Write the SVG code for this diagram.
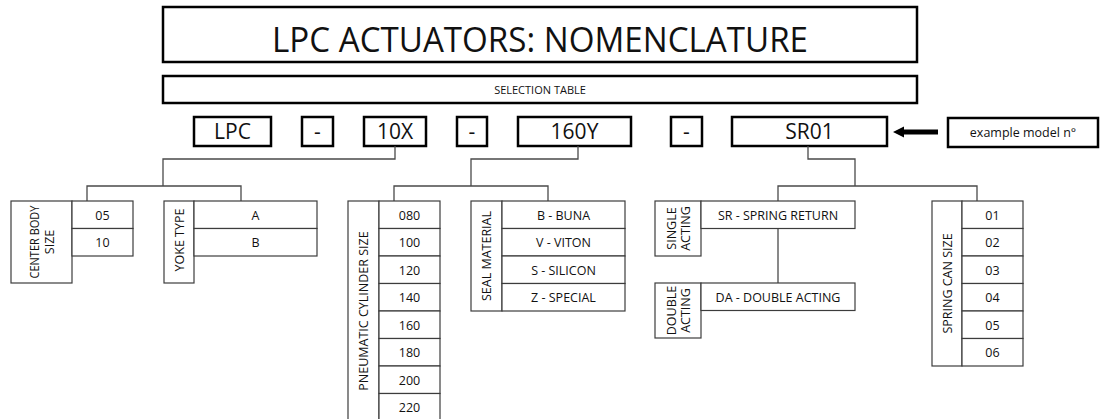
<svg xmlns="http://www.w3.org/2000/svg" width="1101" height="419" viewBox="0 0 1101 419">
<style>
.hb{fill:#fff;stroke:#000;stroke-width:2.5}
.b{fill:#fff;stroke:#3c3c3c;stroke-width:1.2}
.c{fill:none;stroke:#4a4a4a;stroke-width:1.3}
text{font-family:"Open Sans","Liberation Sans",sans-serif;fill:#111;text-anchor:middle}
.t{font-size:35px}
.m{font-size:21px}
.s{font-size:12.5px}
.xs{font-size:11px}
</style>
<rect width="1101" height="419" fill="#fff"/>
<g id="title"><rect class="hb" x="163" y="7" width="754" height="55"/><text class="t" x="540" y="52" textLength="536" lengthAdjust="spacingAndGlyphs">LPC ACTUATORS: NOMENCLATURE</text></g>
<g id="selection"><rect class="hb" x="163" y="76" width="754" height="27"/><text class="xs" x="540" y="94">SELECTION TABLE</text></g>
<g id="code-lpc"><rect class="hb" x="194" y="117" width="77" height="29"/><text class="m" x="232.5" y="139">LPC</text></g>
<g id="code-dash1"><rect class="hb" x="302" y="117" width="31" height="29"/><text class="m" x="317.5" y="139">-</text></g>
<g id="code-10x"><rect class="hb" x="364" y="117" width="62" height="29"/><text class="m" x="395" y="139">10X</text></g>
<g id="code-dash2"><rect class="hb" x="457" y="117" width="30" height="29"/><text class="m" x="472" y="139">-</text></g>
<g id="code-160y"><rect class="hb" x="518" y="117" width="113" height="29"/><text class="m" x="574.5" y="139">160Y</text></g>
<g id="code-dash3"><rect class="hb" x="671" y="117" width="31" height="29"/><text class="m" x="686.5" y="139">-</text></g>
<g id="code-sr01"><rect class="hb" x="732" y="117" width="155" height="29"/><text class="m" x="809.5" y="139">SR01</text></g>
<g id="example"><rect class="hb" x="948" y="118" width="150" height="29"/><text class="s" x="1023" y="137">example model n°</text></g>
<g id="arrow"><polygon points="893,132 904,126.5 904,137.5" fill="#000"/><rect x="903" y="129.5" width="35" height="5" fill="#000"/></g>

<g id="connectors">
<path class="c" d="M395,146V159H163V186M87,201V186H241V201"/>
<path class="c" d="M578,146V159H471V186M394,201V186H548V201"/>
<path class="c" d="M808,146V159H855V186M778,201V186H977V201"/>
<path class="c" d="M778,228.5V283"/>
</g>

<g id="center-body-size">
<rect class="b" x="11" y="201" width="61" height="82"/>
<text class="s" transform="translate(41.5,242) rotate(-90)"><tspan x="0" y="-3" textLength="73" lengthAdjust="spacingAndGlyphs">CENTER BODY</tspan><tspan x="0" y="12">SIZE</tspan></text>
<rect class="b" x="72" y="201" width="61" height="27.5"/><text class="s" x="102.5" y="219.5">05</text>
<rect class="b" x="72" y="228.5" width="61" height="27.5"/><text class="s" x="102.5" y="247">10</text>
</g>

<g id="yoke-type">
<rect class="b" x="164" y="201" width="30" height="82"/>
<text class="s" transform="translate(183.5,240) rotate(-90)">YOKE TYPE</text>
<rect class="b" x="194" y="201" width="123" height="27.5"/><text class="s" x="255.5" y="219.5">A</text>
<rect class="b" x="194" y="228.5" width="123" height="27.5"/><text class="s" x="255.5" y="247">B</text>
</g>

<g id="pneumatic-cylinder-size">
<rect class="b" x="348" y="201" width="31" height="222"/>
<text class="s" transform="translate(368,311) rotate(-90)">PNEUMATIC CYLINDER SIZE</text>
<rect class="b" x="379" y="201" width="61" height="27.5"/><text class="s" x="409.5" y="219.5">080</text>
<rect class="b" x="379" y="228.5" width="61" height="27.5"/><text class="s" x="409.5" y="247">100</text>
<rect class="b" x="379" y="256" width="61" height="27.5"/><text class="s" x="409.5" y="274.5">120</text>
<rect class="b" x="379" y="283.5" width="61" height="27.5"/><text class="s" x="409.5" y="302">140</text>
<rect class="b" x="379" y="311" width="61" height="27.5"/><text class="s" x="409.5" y="329.5">160</text>
<rect class="b" x="379" y="338.5" width="61" height="27.5"/><text class="s" x="409.5" y="357">180</text>
<rect class="b" x="379" y="366" width="61" height="27.5"/><text class="s" x="409.5" y="384.5">200</text>
<rect class="b" x="379" y="393.5" width="61" height="29"/><text class="s" x="409.5" y="412">220</text>
</g>

<g id="seal-material">
<rect class="b" x="471" y="201" width="31" height="110"/>
<text class="s" transform="translate(491,256) rotate(-90)">SEAL MATERIAL</text>
<rect class="b" x="502" y="201" width="123" height="27.5"/><text class="s" x="563.5" y="219.5">B - BUNA</text>
<rect class="b" x="502" y="228.5" width="123" height="27.5"/><text class="s" x="563.5" y="247">V - VITON</text>
<rect class="b" x="502" y="256" width="123" height="27.5"/><text class="s" x="563.5" y="274.5">S - SILICON</text>
<rect class="b" x="502" y="283.5" width="123" height="27.5"/><text class="s" x="563.5" y="302">Z - SPECIAL</text>
</g>

<g id="single-acting">
<rect class="b" x="655" y="201" width="46" height="55"/>
<text class="s" transform="translate(678,228.5) rotate(-90)"><tspan x="0" y="-2">SINGLE</tspan><tspan x="0" y="12">ACTING</tspan></text>
<rect class="b" x="701" y="201" width="154" height="27.5"/><text class="s" x="778" y="219.5">SR - SPRING RETURN</text>
</g>

<g id="double-acting">
<rect class="b" x="655" y="283" width="46" height="55"/>
<text class="s" transform="translate(678,310.5) rotate(-90)"><tspan x="0" y="-2">DOUBLE</tspan><tspan x="0" y="12">ACTING</tspan></text>
<rect class="b" x="701" y="283" width="154" height="27.5"/><text class="s" x="778" y="301.5">DA - DOUBLE ACTING</text>
</g>

<g id="spring-can-size">
<rect class="b" x="932" y="201" width="30" height="165"/>
<text class="s" transform="translate(951.5,283.5) rotate(-90)">SPRING CAN SIZE</text>
<rect class="b" x="962" y="201" width="61" height="27.5"/><text class="s" x="992.5" y="219.5">01</text>
<rect class="b" x="962" y="228.5" width="61" height="27.5"/><text class="s" x="992.5" y="247">02</text>
<rect class="b" x="962" y="256" width="61" height="27.5"/><text class="s" x="992.5" y="274.5">03</text>
<rect class="b" x="962" y="283.5" width="61" height="27.5"/><text class="s" x="992.5" y="302">04</text>
<rect class="b" x="962" y="311" width="61" height="27.5"/><text class="s" x="992.5" y="329.5">05</text>
<rect class="b" x="962" y="338.5" width="61" height="27.5"/><text class="s" x="992.5" y="357">06</text>
</g>
</svg>
